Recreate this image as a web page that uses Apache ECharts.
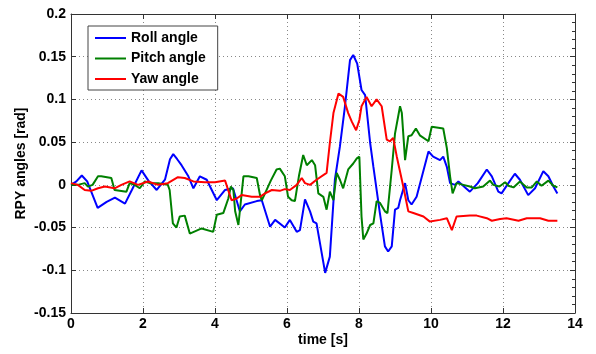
<!DOCTYPE html>
<html>
<head>
<meta charset="utf-8">
<script src="https://cdn.jsdelivr.net/npm/echarts@6/dist/echarts.min.js"></script>
<style>html,body{margin:0;padding:0;background:#fff;}#c{width:596px;height:354px;}</style>
</head>
<body>
<div id="c"></div>
<script>
var seriesNames = ['Roll angle', 'Pitch angle', 'Yaw angle'];
var xTicks = [0, 2, 4, 6, 8, 10, 12, 14];
var yTicks = [-0.15, -0.1, -0.05, 0, 0.05, 0.1, 0.15, 0.2];

var rollT = [0, 0.15, 0.3, 0.45, 0.74, 0.99, 1.22, 1.5, 1.69, 1.96, 2.15, 2.38, 2.61, 2.75, 2.84, 2.95, 3.07, 3.26, 3.4, 3.58, 3.77, 4.05, 4.28, 4.5, 4.69, 4.83, 5.16, 5.3, 5.53, 5.67, 5.94, 6.08, 6.27, 6.36, 6.5, 6.64, 6.73, 6.82, 7.06, 7.19, 7.33, 7.47, 7.61, 7.75, 7.84, 7.95, 8.07, 8.17, 8.31, 8.4, 8.58, 8.72, 8.81, 8.91, 9.0, 9.09, 9.14, 9.28, 9.37, 9.46, 9.6, 9.93, 10.06, 10.25, 10.34, 10.44, 10.53, 10.67, 10.76, 11.08, 11.3, 11.55, 11.69, 11.87, 11.96, 12.15, 12.33, 12.47, 12.7, 12.89, 13.12, 13.26, 13.4, 13.51];
var rollV = [0, 0.004, 0.011, 0.004, -0.027, -0.02, -0.015, -0.022, -0.006, 0.017, 0.005, -0.006, 0.006, 0.03, 0.036, 0.03, 0.023, 0.01, -0.004, 0.01, 0.006, -0.018, -0.006, -0.004, -0.031, -0.023, -0.019, -0.018, -0.049, -0.041, -0.05, -0.041, -0.055, -0.053, -0.017, -0.031, -0.043, -0.045, -0.103, -0.084, 0.006, 0.045, 0.092, 0.146, 0.152, 0.142, 0.111, 0.105, 0.049, 0.021, -0.033, -0.072, -0.078, -0.072, -0.029, -0.027, -0.018, 0.002, -0.018, -0.023, -0.014, 0.039, 0.033, 0.029, 0.033, 0.021, 0.002, 0, 0.004, -0.008, 0.002, 0.018, 0.01, -0.008, -0.01, 0.002, 0.013, 0.006, -0.012, -0.004, 0.016, 0.01, -0.002, -0.01];

var pitchT = [0, 0.19, 0.38, 0.47, 0.6, 0.75, 0.84, 1.12, 1.21, 1.54, 1.63, 1.77, 1.91, 2.05, 2.19, 2.42, 2.69, 2.74, 2.83, 2.93, 3.02, 3.16, 3.3, 3.63, 3.68, 3.95, 4.05, 4.23, 4.37, 4.44, 4.51, 4.56, 4.65, 4.69, 4.79, 4.93, 5.16, 5.25, 5.3, 5.39, 5.55, 5.71, 5.8, 5.94, 6.03, 6.13, 6.22, 6.33, 6.45, 6.55, 6.69, 6.78, 6.87, 7.01, 7.1, 7.19, 7.29, 7.38, 7.47, 7.56, 7.7, 7.84, 7.94, 8.01, 8.07, 8.12, 8.21, 8.31, 8.4, 8.49, 8.58, 8.72, 8.79, 8.91, 9.0, 9.14, 9.19, 9.28, 9.37, 9.46, 9.58, 9.69, 9.93, 10.02, 10.34, 10.44, 10.53, 10.6, 10.71, 10.9, 11.08, 11.22, 11.45, 11.64, 11.73, 11.9, 12.06, 12.15, 12.29, 12.47, 12.66, 12.8, 12.94, 13.07, 13.26, 13.4, 13.51];
var pitchV = [0, 0, 0.002, -0.002, 0, 0.01, 0.01, 0.008, -0.006, -0.008, 0.002, 0, -0.004, 0.004, 0.002, 0.002, 0, -0.006, -0.045, -0.05, -0.037, -0.036, -0.057, -0.051, -0.053, -0.055, -0.035, -0.033, -0.016, -0.002, -0.006, -0.031, -0.047, -0.045, 0.01, 0.01, 0.008, -0.012, -0.018, -0.01, 0.005, 0.018, 0.019, 0.01, -0.014, -0.018, -0.019, 0.01, 0.035, 0.023, 0.029, 0.023, -0.01, -0.014, -0.029, -0.008, -0.018, 0.014, 0.006, -0.004, 0.018, 0.025, 0.031, 0.033, -0.037, -0.064, -0.057, -0.047, -0.045, -0.019, -0.021, -0.031, -0.033, 0.018, 0.06, 0.092, 0.084, 0.029, 0.057, 0.058, 0.066, 0.058, 0.051, 0.068, 0.066, 0.043, 0.01, -0.01, 0.002, 0, -0.002, -0.004, -0.002, 0.005, 0, -0.002, 0.003, -0.001, -0.003, 0.004, -0.003, -0.003, 0.004, -0.001, 0.005, -0.001, -0.003];

var yawT = [0, 0.19, 0.38, 0.56, 0.75, 0.94, 1.21, 1.4, 1.63, 1.86, 2.14, 2.42, 2.69, 2.97, 3.16, 3.4, 3.72, 4.0, 4.28, 4.32, 4.46, 4.6, 4.74, 5.02, 5.25, 5.39, 5.58, 5.8, 5.94, 6.08, 6.27, 6.41, 6.5, 6.64, 6.82, 7.1, 7.19, 7.29, 7.43, 7.56, 7.7, 7.8, 7.92, 8.01, 8.07, 8.21, 8.35, 8.49, 8.63, 8.77, 8.86, 8.95, 9.05, 9.23, 9.37, 9.51, 9.79, 9.97, 10.25, 10.44, 10.58, 10.71, 11.08, 11.27, 11.55, 11.69, 11.92, 12.1, 12.43, 12.66, 13.03, 13.26, 13.51];
var yawV = [0.002, 0, -0.006, -0.007, -0.004, -0.002, -0.004, 0, 0.004, 0, 0.004, 0, 0.002, 0.009, 0.008, 0.004, 0.003, 0.003, 0.005, 0.004, -0.018, -0.016, -0.012, -0.014, -0.014, -0.01, -0.006, -0.007, -0.005, -0.006, 0, 0.008, 0.002, 0, 0.006, 0.014, 0.049, 0.084, 0.107, 0.103, 0.084, 0.074, 0.064, 0.076, 0.092, 0.103, 0.092, 0.1, 0.092, 0.053, 0.051, 0.055, 0.033, -0.002, -0.031, -0.033, -0.037, -0.043, -0.041, -0.039, -0.053, -0.037, -0.036, -0.036, -0.039, -0.042, -0.04, -0.039, -0.042, -0.039, -0.039, -0.042, -0.042];

function zip(t, v) { return t.map(function (x, i) { return [x, v[i]]; }); }

var FONT = 'Liberation Sans, Arial, sans-serif';
var AX = '#333';
var chart = echarts.init(document.getElementById('c'), null, { renderer: 'canvas' });

function yFmt(v) { var s = (+v.toFixed(2)).toString(); return s === '-0' ? '0' : s; }

chart.setOption({
  animation: false,
  backgroundColor: '#fff',
  grid: { left: 71, right: 21, top: 14, bottom: 41, containLabel: false },
  legend: {
    data: seriesNames,
    orient: 'vertical', left: 88, top: 26,
    padding: [5, 12, 4, 7], itemGap: 6.5, itemWidth: 31, itemHeight: 2, icon: 'rect',
    backgroundColor: '#fff', borderColor: '#444', borderWidth: 1, borderRadius: 0,
    textStyle: { fontSize: 14, fontWeight: 'bold', color: '#000', fontFamily: FONT, lineHeight: 14 }
  },
  xAxis: [{
    type: 'value', min: xTicks[0], max: xTicks[xTicks.length - 1], interval: 2,
    axisLine: { show: true, onZero: false, lineStyle: { color: AX, width: 1 } },
    axisTick: { show: true, inside: true, length: 5, lineStyle: { color: AX } },
    axisLabel: { color: '#000', fontSize: 14, fontWeight: 'bold', fontFamily: FONT, margin: 4 },
    splitLine: { show: true, lineStyle: { color: '#888', type: [1, 3], width: 1 } },
    name: 'time [s]', nameLocation: 'middle', nameGap: 20, nameMoveOverlap: false,
    nameTextStyle: { color: '#000', fontSize: 14, fontWeight: 'bold', fontFamily: FONT }
  }, {
    type: 'value', position: 'top', min: xTicks[0], max: xTicks[xTicks.length - 1], interval: 2,
    axisLine: { show: true, onZero: false, lineStyle: { color: AX, width: 1 } },
    axisTick: { show: true, inside: true, length: 5, lineStyle: { color: AX } },
    axisLabel: { show: false }, splitLine: { show: false }
  }],
  yAxis: [{
    type: 'value', min: yTicks[0], max: yTicks[yTicks.length - 1], interval: 0.05,
    axisLine: { show: true, onZero: false, lineStyle: { color: AX, width: 1 } },
    axisTick: { show: true, inside: true, length: 5, lineStyle: { color: AX } },
    axisLabel: { color: '#000', fontSize: 14, fontWeight: 'bold', fontFamily: FONT, margin: 5, formatter: yFmt },
    splitLine: { show: true, lineStyle: { color: '#888', type: [1, 3], width: 1 } },
    name: 'RPY angles [rad]', nameLocation: 'middle', nameGap: 43, nameRotate: 90, nameMoveOverlap: false,
    nameTextStyle: { color: '#000', fontSize: 14, fontWeight: 'bold', fontFamily: FONT }
  }, {
    type: 'value', position: 'right', min: yTicks[0], max: yTicks[yTicks.length - 1], interval: 0.05,
    axisLine: { show: true, onZero: false, lineStyle: { color: AX, width: 1 } },
    axisTick: { show: true, inside: true, length: 5, lineStyle: { color: AX } },
    minorTick: { show: true, splitNumber: 5, length: 3, lineStyle: { color: AX } },
    axisLabel: { show: false }, splitLine: { show: false }
  }],
  series: [
    { name: seriesNames[0], type: 'line', data: zip(rollT, rollV), showSymbol: false, symbol: 'none', color: '#0000ff', lineStyle: { width: 2, color: '#0000ff' } },
    { name: seriesNames[1], type: 'line', data: zip(pitchT, pitchV), showSymbol: false, symbol: 'none', color: '#008000', lineStyle: { width: 2, color: '#008000' } },
    { name: seriesNames[2], type: 'line', data: zip(yawT, yawV), showSymbol: false, symbol: 'none', color: '#ff0000', lineStyle: { width: 2, color: '#ff0000' } }
  ]
});
</script>
</body>
</html>
